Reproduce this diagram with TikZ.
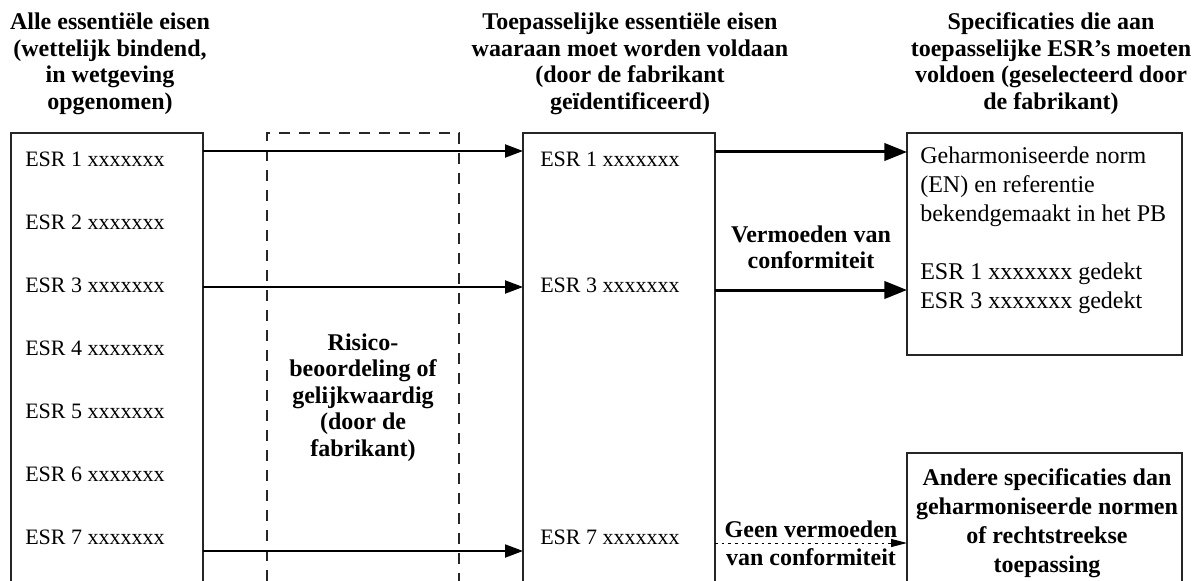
\documentclass[tikz,border=0pt]{standalone}
\usepackage{fontspec}
\setmainfont{Liberation Serif}
\usetikzlibrary{arrows.meta}
\newcommand\headfont{\fontsize{18pt}{19.875pt}\selectfont\bfseries}
\newcommand\esrfont{\fontsize{16.5pt}{20pt}\selectfont}
\newcommand\spcfont{\fontsize{18pt}{21.75pt}\selectfont}
\tikzset{
  area/.style={rectangle, inner sep=0pt, outer sep=0pt, draw=none},
  boxline/.style={draw=black!85, line width=1.1pt},
  dashline/.style={draw=black!85, line width=1.1pt, dash pattern=on 8pt off 7pt},
  heading/.style={anchor=base, align=center, inner sep=0pt, font=\headfont},
  esr/.style={anchor=west, inner sep=0pt, font=\esrfont},
  thinarrow/.style={line width=1.5pt, -{Triangle[length=13.5pt,width=9.75pt]}},
  thickarrow/.style={line width=2.25pt, -{Triangle[length=17pt,width=13pt]}},
  dotarrow/.style={line width=0.75pt, dash pattern=on 2pt off 3pt, -{Triangle[length=12pt,width=6pt]}},
}
\begin{document}
\begin{tikzpicture}[x=0.75pt,y=-0.75pt]
\useasboundingbox (0,0) rectangle (1195,581);

% column areas
\node[area, minimum width=144pt, minimum height=336pt] (L) at (107,357) {};
\node[area, minimum width=144pt, minimum height=336pt] (R) at (363,357) {};
\node[area, minimum width=144pt, minimum height=336pt] (M) at (619,357) {};
\node[area, boxline, minimum width=206.25pt, minimum height=166.5pt] (RT) at (1044.5,244) {};
\node[area, minimum width=206.25pt, minimum height=96pt] (RB) at (1044.5,517) {};

\draw[boxline] (L.south west) -- (L.north west) -- (L.north east) -- (L.south east);
\draw[dashline] (R.south west) -- (R.north west) -- (R.north east) -- (R.south east);
\draw[boxline] (M.south west) -- (M.north west) -- (M.north east) -- (M.south east);
\draw[boxline] (RB.south west) -- (RB.north west) -- (RB.north east) -- (RB.south east);

% headings (anchor base = last line)
\node[heading] (h1) at (110,109.5) {Alle essentiële eisen\\(wettelijk bindend,\\in wetgeving\\opgenomen)};
\node[heading] (h2) at (630,109.5) {Toepasselijke essentiële eisen\\waaraan moet worden voldaan\\(door de fabrikant\\geïdentificeerd)};
\node[heading] (h3) at (1051,109.5) {Specificaties die aan\\toepasselijke ESR’s moeten\\voldoen (geselecteerd door\\de fabrikant)};

% left ESR list
\node[esr] (l1) at (25,159) {ESR 1 xxxxxxx};
\node[esr] (l2) at (25,222) {ESR 2 xxxxxxx};
\node[esr] (l3) at (25,285) {ESR 3 xxxxxxx};
\node[esr] (l4) at (25,348) {ESR 4 xxxxxxx};
\node[esr] (l5) at (25,411) {ESR 5 xxxxxxx};
\node[esr] (l6) at (25,474) {ESR 6 xxxxxxx};
\node[esr] (l7) at (25,537) {ESR 7 xxxxxxx};

% middle ESR list
\node[esr] (m1) at (540,159) {ESR 1 xxxxxxx};
\node[esr] (m3) at (540,285) {ESR 3 xxxxxxx};
\node[esr] (m7) at (540,537) {ESR 7 xxxxxxx};

% risk text
\node[heading] (risk) at (363,456) {Risico-\\beoordeling of\\gelijkwaardig\\(door de\\fabrikant)};

% right top text
\node[anchor=base west, align=left, inner sep=0pt, font=\spcfont] (spec) at (920,308)
  {Geharmoniseerde norm\\(EN) en referentie\\bekendgemaakt in het PB\\[21.75pt]ESR 1 xxxxxxx gedekt\\ESR 3 xxxxxxx gedekt};

% right bottom text
\node[heading, font=\fontsize{18pt}{21.75pt}\selectfont\bfseries] (other) at (1047,572)
  {Andere specificaties dan\\geharmoniseerde normen\\of rechtstreekse\\toepassing};

% labels between middle and right
\node[heading, font=\fontsize{18pt}{19.5pt}\selectfont\bfseries] (pres) at (811,268) {Vermoeden van\\conformiteit};
\node[heading, font=\fontsize{18pt}{21pt}\selectfont\bfseries] (nopres) at (811,565) {Geen vermoeden\\van conformiteit};

% arrow levels
\coordinate (r1) at (0,151);
\coordinate (r3) at (0,287);
\coordinate (r7) at (0,551);
\coordinate (s1) at (0,152);
\coordinate (s3) at (0,290);
\coordinate (s7) at (0,543);

\draw[thinarrow] (L.east |- r1) -- (M.west |- r1);
\draw[thinarrow] (L.east |- r3) -- (M.west |- r3);
\draw[thinarrow] (L.east |- r7) -- (M.west |- r7);
\draw[thickarrow] (M.east |- s1) -- (RT.west |- s1);
\draw[thickarrow] (M.east |- s3) -- (RT.west |- s3);
\draw[dotarrow] (M.east |- s7) -- (RB.west |- s7);
\end{tikzpicture}
\end{document}
